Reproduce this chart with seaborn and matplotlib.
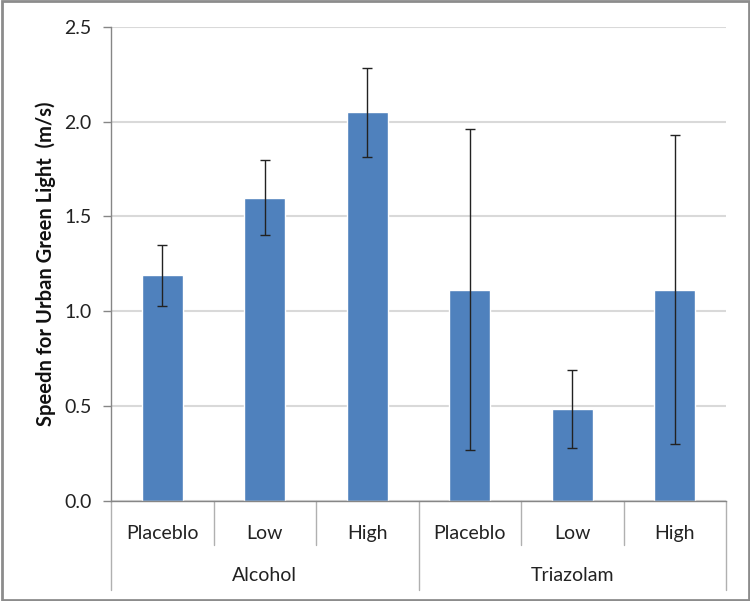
import matplotlib
matplotlib.use("Agg")
import numpy as np
import pandas as pd
import matplotlib.pyplot as plt
import seaborn as sns

drugs = ["Alcohol", "Alcohol", "Alcohol", "Triazolam", "Triazolam", "Triazolam"]
doses = ["Placeblo", "Low", "High", "Placeblo", "Low", "High"]
speed = [1.19, 1.60, 2.05, 1.115, 0.485, 1.115]
err = [0.16, 0.20, 0.235, 0.845, 0.205, 0.815]
yticks = [0.0, 0.5, 1.0, 1.5, 2.0, 2.5]

df = pd.DataFrame({"drug": drugs, "dose": doses, "speed": speed, "err": err})
df["key"] = df["drug"] + " " + df["dose"]

sns.set_style("white")
plt.rcParams["font.family"] = ["Lato", "DejaVu Sans"]

fig = plt.figure(figsize=(7.5, 6.01), dpi=100)
ax = fig.add_axes([0.148, 0.1664, 0.820, 0.789])

sns.barplot(data=df, x="key", y="speed", color="#4f81bd", width=0.4,
            saturation=1, errorbar=None, ax=ax, zorder=2)
ax.errorbar(np.arange(len(df)), df["speed"], yerr=df["err"], fmt="none",
            ecolor="#222222", elinewidth=1, capsize=3.5, capthick=1, zorder=3)

ax.set_ylim(0, 2.5)
ax.set_xlim(-0.5, len(df) - 0.5)
ax.set_yticks(yticks)
ax.set_yticklabels([f"{t:.1f}" for t in yticks], fontsize=14, color="#222222")
ax.yaxis.grid(True, color="#d9d9d9", linewidth=1.5, zorder=0)
ax.set_axisbelow(True)
ax.tick_params(axis="y", length=6, width=1, color="#868686", direction="out", pad=8, left=True)
ax.tick_params(axis="x", length=0, pad=17)
ax.set_xticks(np.arange(len(df)))
ax.set_xticklabels(df["dose"], fontsize=14, color="#222222")
ax.set_xlabel("")
ax.set_ylabel("Speedn for Urban Green Light  (m/s)", fontsize=14.5, fontweight="bold",
              color="#111111", labelpad=6)

for s in ["top", "right"]:
    ax.spines[s].set_visible(False)
ax.spines["left"].set_color("#868686")
ax.spines["bottom"].set_color("#868686")
ax.spines["left"].set_linewidth(1)
ax.spines["bottom"].set_linewidth(1)

# two-level category axis
trans = ax.get_xaxis_transform()
for i in range(len(df) + 1):
    x = i - 0.5
    group_edge = i == 0 or i == len(df) or df["drug"].iloc[i - 1] != df["drug"].iloc[i]
    y_end = -0.188 if group_edge else -0.093
    ax.plot([x, x], [0, y_end], transform=trans, color="#b0b0b0", lw=1, clip_on=False)

for drug in df["drug"].unique():
    pos = np.where(df["drug"] == drug)[0]
    ax.text(pos.mean(), -0.158, drug, transform=trans, ha="center", va="center",
            fontsize=14, color="#222222")

fig.patches.append(plt.Rectangle((0.002, 0.002), 0.996, 0.996, transform=fig.transFigure,
                                 fill=False, edgecolor="#8c8c8c", lw=2))

fig.savefig("out.png", dpi=100)
